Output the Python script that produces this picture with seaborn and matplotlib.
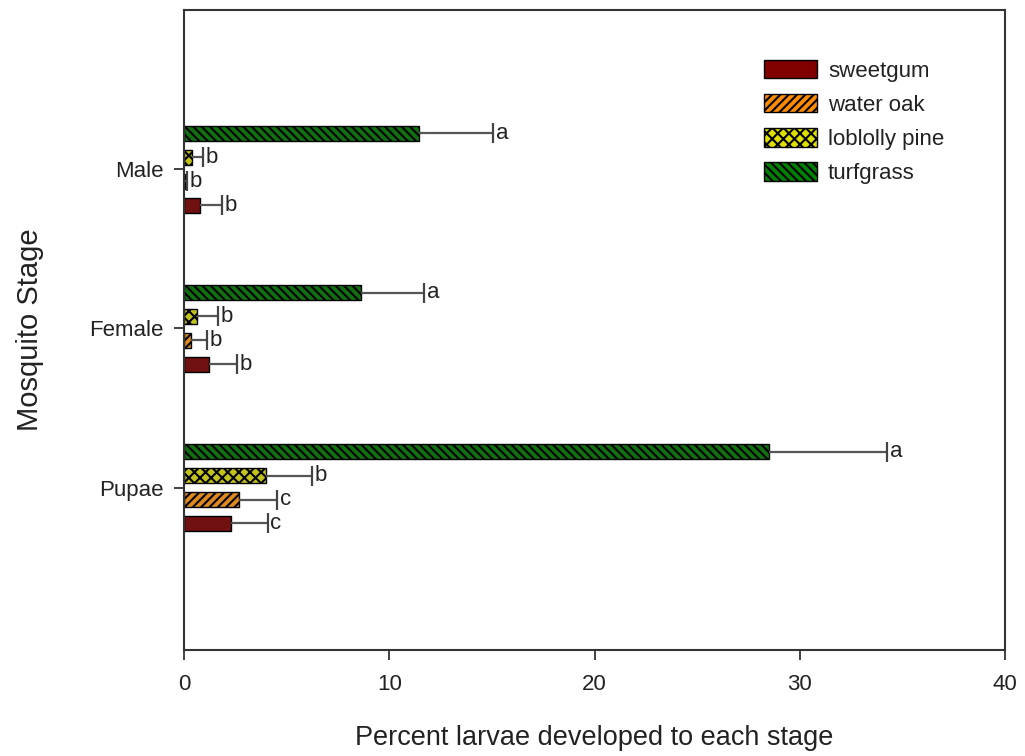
import numpy as np
import pandas as pd
import matplotlib
matplotlib.use("Agg")
import matplotlib.pyplot as plt
import seaborn as sns
from matplotlib.patches import Patch

# ---- data ----
stages = ["Male", "Female", "Pupae"]
trees = ["sweetgum", "water oak", "loblolly pine", "turfgrass"]
# mean values per tree (order matches stages)
sweetgum_mean = [0.78, 1.22, 2.27]
wateroak_mean = [0.05, 0.34, 2.68]
loblolly_mean = [0.39, 0.65, 3.99]
turfgrass_mean = [11.45, 8.62, 28.5]
# error (one-sided, SE)
sweetgum_err = [1.07, 1.36, 1.80]
wateroak_err = [0.10, 0.78, 1.84]
loblolly_err = [0.54, 1.00, 2.23]
turfgrass_err = [3.60, 3.07, 5.75]
# significance letters
sweetgum_let = ["b", "b", "c"]
wateroak_let = ["b", "b", "c"]
loblolly_let = ["b", "b", "b"]
turfgrass_let = ["a", "a", "a"]

means = {"sweetgum": sweetgum_mean, "water oak": wateroak_mean,
         "loblolly pine": loblolly_mean, "turfgrass": turfgrass_mean}
errs = {"sweetgum": sweetgum_err, "water oak": wateroak_err,
        "loblolly pine": loblolly_err, "turfgrass": turfgrass_err}
letters = {"sweetgum": sweetgum_let, "water oak": wateroak_let,
           "loblolly pine": loblolly_let, "turfgrass": turfgrass_let}

rows = []
for t in trees:
    for i, s in enumerate(stages):
        rows.append({"stage": s, "tree": t, "value": means[t][i]})
df = pd.DataFrame(rows)

colors = {"sweetgum": "#800000", "water oak": "#ff8c00",
          "loblolly pine": "#dede00", "turfgrass": "#008000"}
hatches = {"sweetgum": "", "water oak": "////",
           "loblolly pine": "xxx", "turfgrass": "\\\\\\\\"}

sns.set_style("ticks")
plt.rcParams["font.family"] = ["Liberation Sans", "DejaVu Sans"]
plt.rcParams["hatch.linewidth"] = 1.5

fig = plt.figure(figsize=(10.25, 7.56), dpi=100)
ax = fig.add_axes([184/1025, 106/756, 821/1025, 640/756])

hue_order = ["turfgrass", "loblolly pine", "water oak", "sweetgum"]
sns.barplot(data=df, x="value", y="stage", hue="tree", order=stages,
            hue_order=hue_order, palette=colors, orient="h",
            width=0.6, gap=0.37, errorbar=None, edgecolor="black",
            linewidth=1.0, legend=False, ax=ax)

for cont, t in zip(ax.containers, hue_order):
    for p in cont.patches:
        yc = p.get_y() + p.get_height() / 2
        i = int(round(yc))
        p.set_hatch(hatches[t])
        p.set_edgecolor("black")
        v = means[t][i]
        e = errs[t][i]
        ax.errorbar(v, yc, xerr=[[0], [e]], fmt="none", ecolor="#555555",
                    elinewidth=1.6, capsize=0, zorder=1)
        ax.plot([v + e], [yc], marker="|", markersize=15, mew=1.6,
                color="#444444", zorder=1)
        ax.annotate(letters[t][i], (v + e, yc), xytext=(2, 0),
                    textcoords="offset points", ha="left", va="center",
                    fontsize=16, color="#222222")

ax.set_xlim(0, 40)
ax.set_xticks([0, 10, 20, 30, 40])
ax.set_ylim(3.02, -1.0)

for sp in ax.spines.values():
    sp.set_visible(True)
    sp.set_color("#333333")
    sp.set_linewidth(1.5)

ax.tick_params(axis="both", direction="out", length=7, width=1.3,
               color="#333333", labelsize=16, labelcolor="#222222")
ax.tick_params(axis="x", pad=10)
ax.tick_params(axis="y", pad=8)

ax.set_xlabel("Percent larvae developed to each stage", fontsize=19.5,
              color="#222222", va="center")
ax.xaxis.set_label_coords(0.5, -0.1375)
ax.set_ylabel("Mosquito Stage", fontsize=21, color="#222222", va="center")
ax.yaxis.set_label_coords(-0.1876, 0.5)

handles = [Patch(facecolor=colors[t], edgecolor="black", hatch=hatches[t],
                 linewidth=1.0, label=t) for t in trees]
ax.legend(handles=handles, loc="upper left", bbox_to_anchor=(0.706, 0.922),
          frameon=False, fontsize=16, handlelength=2.4, handleheight=0.9,
          handletextpad=0.5, labelspacing=0.55, borderpad=0, borderaxespad=0,
          labelcolor="#222222")

fig.savefig("out.png", dpi=100)
